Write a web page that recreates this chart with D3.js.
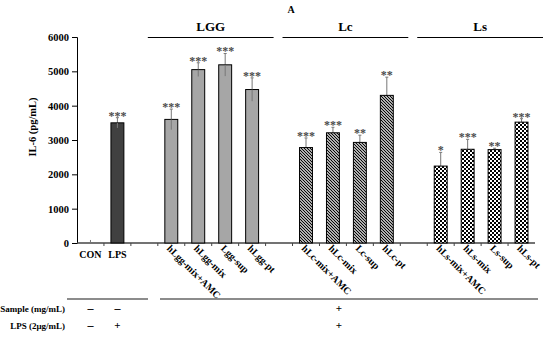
<!DOCTYPE html>
<html>
<head>
<meta charset="utf-8">
<script src="https://cdn.jsdelivr.net/npm/d3@7"></script>
<style>
  body { margin: 0; background: #fff; }
  svg { opacity: 0.999; }
  svg text { font-family: "Liberation Serif", "Times New Roman", serif; font-weight: bold; }
</style>
</head>
<body>
<svg id="canvas" width="550" height="339"></svg>
<script>
// categories along the x axis (blank entries are the gaps between groups)
let categories = ["CON", "LPS", "gap1",
  "hLgg-mix+AMC", "hLgg-mix", "Lgg-sup", "hLgg-pt", "gap2",
  "hLc-mix+AMC", "hLc-mix", "Lc-sup", "hLc-pt", "gap3",
  "hLs-mix+AMC", "hLs-mix", "Ls-sup", "hLs-pt"];
let values = [30, 3500, null, 3600, 5050, 5190, 4470, null,
  2780, 3210, 2930, 4300, null, 2240, 2730, 2720, 3520];
let errors = [0, 150, null, 300, 200, 330, 340, null,
  280, 160, 210, 530, null, 400, 290, 40, 100];
let stars = ["", "***", "", "***", "***", "***", "***", "",
  "***", "***", "**", "**", "", "*", "***", "**", "***"];
let fills = ["none", "dark", "", "gray", "gray", "gray", "gray", "",
  "hatch", "hatch", "hatch", "hatch", "", "check", "check", "check", "check"];
let groups = [
  { name: "LGG", first: "hLgg-mix+AMC", last: "hLgg-pt" },
  { name: "Lc", first: "hLc-mix+AMC", last: "hLc-pt" },
  { name: "Ls", first: "hLs-mix+AMC", last: "hLs-pt" }
];
let yTicks = [0, 1000, 2000, 3000, 4000, 5000, 6000];

let canvas = d3.select("#canvas");

// patterns for the bar fills
let defs = canvas.append("defs");
let hatch = defs.append("pattern")
  .attr("id", "hatch")
  .attr("patternUnits", "userSpaceOnUse")
  .attr("width", 3).attr("height", 3);
hatch.append("rect").attr("width", 3).attr("height", 3).attr("fill", "#fff");
hatch.append("path")
  .attr("d", "M-1,-1 L4,4 M-1,2 L1,4 M2,-1 L4,1")
  .attr("stroke", "#000").attr("stroke-width", 1.2);

let check = defs.append("pattern")
  .attr("id", "check")
  .attr("patternUnits", "userSpaceOnUse")
  .attr("width", 4).attr("height", 4);
check.append("rect").attr("width", 4).attr("height", 4).attr("fill", "#fff");
check.append("rect").attr("width", 2).attr("height", 2).attr("fill", "#000");
check.append("rect").attr("x", 2).attr("y", 2).attr("width", 2).attr("height", 2).attr("fill", "#000");

let fillColor = (f) => {
  if (f === "dark") return "#404040";
  if (f === "gray") return "#a6a6a6";
  if (f === "hatch") return "url(#hatch)";
  if (f === "check") return "url(#check)";
  return "none";
};

let x = d3.scaleBand()
  .domain(categories)
  .range([77, 535])
  .paddingInner(0.52)
  .paddingOuter(0.26);

let y = d3.scaleLinear()
  .domain([0, 6000])
  .range([243, 37]);

// y axis
let yAxis = canvas.append("g")
  .attr("transform", "translate(77,0)")
  .call(d3.axisLeft(y).tickValues(yTicks).tickFormat(d3.format("d")).tickSize(5).tickPadding(3));
yAxis.selectAll("text").attr("font-size", 10.5).attr("fill", "#000");
yAxis.select(".domain").attr("stroke", "#000");

canvas.append("text")
  .attr("transform", "translate(36,127) rotate(-90)")
  .attr("text-anchor", "middle")
  .attr("font-size", 10.5)
  .text("IL-6 (pg/mL)");

// x axis line and ticks at band boundaries
let step = x.step();
let half = (step - x.bandwidth()) / 2;
canvas.append("line")
  .attr("x1", 77).attr("x2", 535)
  .attr("y1", y(0)).attr("y2", y(0))
  .attr("stroke", "#444").attr("stroke-width", 1.3);
canvas.selectAll(".xtick")
  .data(categories.slice(1))
  .enter()
  .append("line")
  .attr("class", "xtick")
  .attr("x1", (c) => x(c) - half)
  .attr("x2", (c) => x(c) - half)
  .attr("y1", y(0)).attr("y2", y(0) + 3)
  .attr("stroke", "#444");

let data = categories.map((c, i) => ({
  cat: c, value: values[i], err: errors[i], star: stars[i], fill: fills[i]
})).filter((d) => d.value !== null);

// error bars
let errG = canvas.selectAll(".err")
  .data(data.filter((d) => d.err > 0))
  .enter()
  .append("g")
  .attr("class", "err");

errG.append("line")
  .attr("x1", (d) => x(d.cat) + x.bandwidth() / 2)
  .attr("x2", (d) => x(d.cat) + x.bandwidth() / 2)
  .attr("y1", (d) => y(d.value - d.err))
  .attr("y2", (d) => y(d.value + d.err))
  .attr("stroke", "#777").attr("stroke-width", 1);
errG.append("line")
  .attr("x1", (d) => x(d.cat) + x.bandwidth() / 2 - 1.5)
  .attr("x2", (d) => x(d.cat) + x.bandwidth() / 2 + 1.5)
  .attr("y1", (d) => y(d.value + d.err))
  .attr("y2", (d) => y(d.value + d.err))
  .attr("stroke", "#777").attr("stroke-width", 1);

// bars
canvas.selectAll(".bar")
  .data(data.filter((d) => d.fill !== "none"))
  .enter()
  .append("rect")
  .attr("class", "bar")
  .attr("x", (d) => x(d.cat))
  .attr("y", (d) => y(d.value))
  .attr("width", x.bandwidth())
  .attr("height", (d) => y(0) - y(d.value))
  .attr("fill", (d) => fillColor(d.fill))
  .attr("stroke", "#000")
  .attr("stroke-width", 1);

// lower half of the error bar shows through solid bars
canvas.selectAll(".errIn")
  .data(data.filter((d) => d.err > 0 && (d.fill === "gray" || d.fill === "dark")))
  .enter()
  .append("line")
  .attr("x1", (d) => x(d.cat) + x.bandwidth() / 2)
  .attr("x2", (d) => x(d.cat) + x.bandwidth() / 2)
  .attr("y1", (d) => y(d.value - d.err))
  .attr("y2", (d) => y(d.value))
  .attr("stroke", "#777").attr("stroke-width", 1);

// CON tiny mark
canvas.selectAll(".con")
  .data(data.filter((d) => d.fill === "none"))
  .enter()
  .append("line")
  .attr("x1", (d) => x(d.cat) + x.bandwidth() / 2)
  .attr("x2", (d) => x(d.cat) + x.bandwidth() / 2)
  .attr("y1", (d) => y(d.value) - 2)
  .attr("y2", y(0))
  .attr("stroke", "#777");

// significance stars
canvas.selectAll(".star")
  .data(data.filter((d) => d.star !== ""))
  .enter()
  .append("text")
  .attr("class", "star")
  .attr("x", (d) => x(d.cat) + x.bandwidth() / 2)
  .attr("y", (d) => y(d.value + d.err) + 2)
  .attr("text-anchor", "middle")
  .attr("font-size", 12)
  .attr("fill", "#4a4a4a")
  .text((d) => d.star);

// x labels
let center = (c) => x(c) + x.bandwidth() / 2;
canvas.selectAll(".xlab")
  .data(data)
  .enter()
  .append("text")
  .attr("class", "xlab")
  .attr("font-size", 10)
  .attr("text-anchor", (d, i) => i < 2 ? "middle" : "start")
  .attr("transform", (d, i) => i < 2
    ? "translate(" + center(d.cat) + ",258)"
    : "translate(" + (center(d.cat) - 5) + ",249) rotate(45)")
  .text((d) => d.cat);

// group headers
groups.forEach((g) => {
  let x0 = x(g.first) - half - 10;
  let x1 = x(g.last) + x.bandwidth() + half + 8;
  canvas.append("line")
    .attr("x1", x0).attr("x2", x1)
    .attr("y1", 37.5).attr("y2", 37.5)
    .attr("stroke", "#000").attr("stroke-width", 1);
  canvas.append("text")
    .attr("x", (x0 + x1) / 2)
    .attr("y", 31)
    .attr("text-anchor", "middle")
    .attr("font-size", 13)
    .text(g.name);
});

canvas.append("text")
  .attr("x", 291).attr("y", 13)
  .attr("text-anchor", "middle")
  .attr("font-size", 10)
  .text("A");

// treatment table below
canvas.append("line")
  .attr("x1", 67).attr("x2", 148).attr("y1", 299).attr("y2", 299)
  .attr("stroke", "#666").attr("stroke-width", 1.5);
canvas.append("line")
  .attr("x1", 160).attr("x2", 538).attr("y1", 299).attr("y2", 299)
  .attr("stroke", "#666").attr("stroke-width", 1.5);

let rowLabels = ["Sample (mg/mL)", "LPS (2\u03bcg/mL)"];
let rowCON = ["\u2013", "\u2013"];
let rowLPS = ["\u2013", "+"];
let rowSamples = ["+", "+"];
let rowY = [312, 329];

rowLabels.forEach((lab, i) => {
  canvas.append("text")
    .attr("x", 65).attr("y", rowY[i])
    .attr("text-anchor", "end")
    .attr("font-size", 9)
    .text(lab);
  canvas.append("text")
    .attr("x", center("CON")).attr("y", rowY[i])
    .attr("text-anchor", "middle").attr("font-size", 12)
    .text(rowCON[i]);
  canvas.append("text")
    .attr("x", center("LPS")).attr("y", rowY[i])
    .attr("text-anchor", "middle").attr("font-size", i === 1 ? 11 : 12)
    .attr("font-weight", i === 1 ? "normal" : "bold")
    .text(rowLPS[i]);
  canvas.append("text")
    .attr("x", 339).attr("y", rowY[i])
    .attr("text-anchor", "middle").attr("font-size", 11)
    .attr("font-weight", "normal")
    .text(rowSamples[i]);
});
</script>
</body>
</html>
